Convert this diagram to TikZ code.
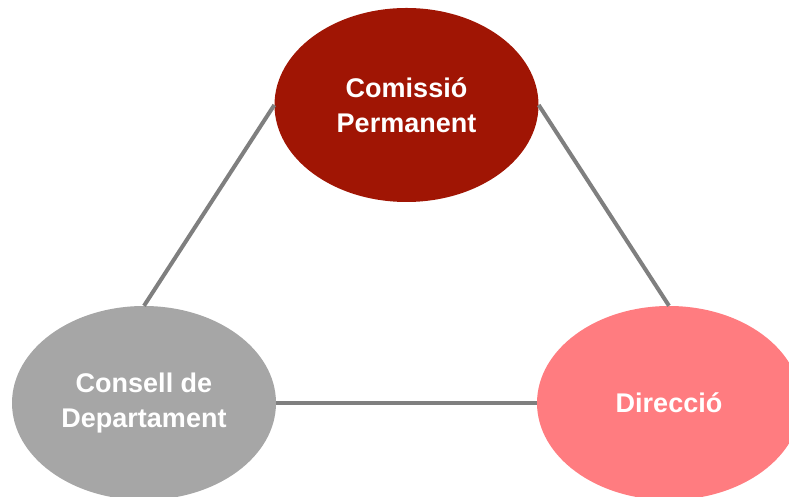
\documentclass[tikz,border=0pt]{standalone}
\usepackage{fontspec}
\setmainfont{Liberation Sans}
\usetikzlibrary{shapes.geometric}
\definecolor{comred}{HTML}{A01504}
\definecolor{dirpink}{HTML}{FF7C80}
\definecolor{conkgray}{HTML}{A6A6A6}
\definecolor{linkgray}{HTML}{7F7F7F}
\begin{document}
\begin{tikzpicture}[x=1pt,y=1pt,
  organ/.style={ellipse, minimum width=264pt, minimum height=194pt, inner sep=0pt,
    text=white, align=center, font=\bfseries\fontsize{27}{35}\selectfont},
  link/.style={draw=linkgray, line width=4pt}]
             \useasboundingbox (0,0) rectangle (789,497);
             \clip (0,0) rectangle (789,497);
             \node[organ, fill=comred] (comissio) at (406.5,392) {Comissió\\Permanent};
             \node[organ, fill=conkgray] (consell) at (144,94) {Consell de\\Departament};
             \node[organ, fill=dirpink] (direccio) at (669,94) {Direcció};
             \draw[link] (comissio.west) -- (consell.north);
             \draw[link] (comissio.east) -- (direccio.north);
             \draw[link] (consell.east) -- (direccio.west);
            \end{tikzpicture}
\end{document}
